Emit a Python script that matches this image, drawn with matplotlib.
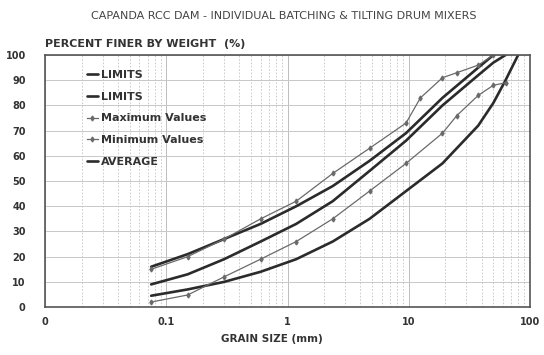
import numpy as np
import matplotlib
matplotlib.use("Agg")
import matplotlib.pyplot as plt
from matplotlib.ticker import FixedLocator, LogLocator, NullFormatter

# sieve sizes (mm) and percent passing
upper_size = [0.075, 0.15, 0.3, 0.6, 1.18, 2.36, 4.75, 9.5, 19, 37.5, 50]
upper_lim = [16, 21, 27, 33, 40, 48, 58, 69, 83, 95, 100]

lower_size = [0.075, 0.15, 0.3, 0.6, 1.18, 2.36, 4.75, 9.5, 19, 37.5, 50, 63, 80]
lower_lim = [4.5, 7, 10, 14, 19, 26, 35, 46, 57, 72, 81, 90, 100]

max_size = [0.075, 0.15, 0.3, 0.6, 1.18, 2.36, 4.75, 9.5, 12.5, 19, 25, 37.5, 50]
max_vals = [15, 20, 27, 35, 42, 53, 63, 73, 83, 91, 93, 96, 100]

min_size = [0.075, 0.15, 0.3, 0.6, 1.18, 2.36, 4.75, 9.5, 19, 25, 37.5, 50, 63]
min_vals = [2, 4.8, 12, 19, 26, 35, 46, 57, 69, 76, 84, 88, 89]

avg_size = [0.075, 0.15, 0.3, 0.6, 1.18, 2.36, 4.75, 9.5, 19, 37.5, 50, 63]
avg_vals = [9, 13, 19, 26, 33, 42, 54, 66, 80, 92, 97, 100]

x_ticks = [0.01, 0.1, 1, 10, 100]
x_labels = ["0", "0.1", "1", "10", "100"]

fig = plt.figure(figsize=(5.44, 3.55), dpi=100)
ax = fig.add_axes([0.083, 0.135, 0.891, 0.71])

thick = dict(color="#2b2b2b", lw=1.9, solid_capstyle="round")
thin = dict(color="#6a6a6a", lw=0.9, marker="d", ms=2.5)

ax.plot(upper_size, upper_lim, label="LIMITS", **thick)
ax.plot(lower_size, lower_lim, label="LIMITS", **thick)
ax.plot(max_size, max_vals, label="Maximum Values", **thin)
ax.plot(min_size, min_vals, label="Minimum Values", **thin)
ax.plot(avg_size, avg_vals, label="AVERAGE", **thick)

ax.set_xscale("log")
ax.set_xlim(0.01, 100)
ax.set_ylim(0, 100)
ax.xaxis.set_major_locator(FixedLocator(x_ticks))
ax.set_xticklabels(x_labels)
ax.xaxis.set_minor_locator(LogLocator(base=10, subs=np.arange(2, 10)))
ax.xaxis.set_minor_formatter(NullFormatter())
ax.set_yticks(np.arange(0, 101, 10))

ax.grid(True, which="major", axis="y", color="#c8c8c8", lw=0.7)
ax.grid(True, which="major", axis="x", color="#bdbdbd", lw=0.7)
ax.grid(True, which="minor", axis="x", color="#c4c4c4", lw=0.6, ls=(0, (2, 2)))
ax.tick_params(which="both", length=0)
ax.tick_params(axis="y", pad=14, labelsize=7)
ax.tick_params(axis="x", pad=7, labelsize=7)
for lab in ax.get_xticklabels() + ax.get_yticklabels():
    lab.set_fontweight("bold")
    lab.set_color("#333333")
for s in ax.spines.values():
    s.set_color("#555555")
    s.set_linewidth(1.2)

ax.set_xlabel("GRAIN SIZE (mm)", fontsize=7.5, fontweight="bold", color="#333333")
ax.xaxis.set_label_coords(0.468, -0.105)
fig.text(0.083, 0.862, "PERCENT FINER BY WEIGHT  (%)", fontsize=8, fontweight="bold",
         color="#333333", ha="left", va="bottom")
fig.text(0.522, 0.955, "CAPANDA RCC DAM - INDIVIDUAL BATCHING & TILTING DRUM MIXERS",
         fontsize=8, color="#444444", ha="center", va="center")

leg = ax.legend(loc="upper left", bbox_to_anchor=(0.065, 0.98), frameon=False,
                handlelength=1.0, handletextpad=0.3, labelspacing=1.05,
                prop={"size": 8, "weight": "bold"})
for t in leg.get_texts():
    t.set_color("#333333")

fig.savefig("out.png", dpi=100)
